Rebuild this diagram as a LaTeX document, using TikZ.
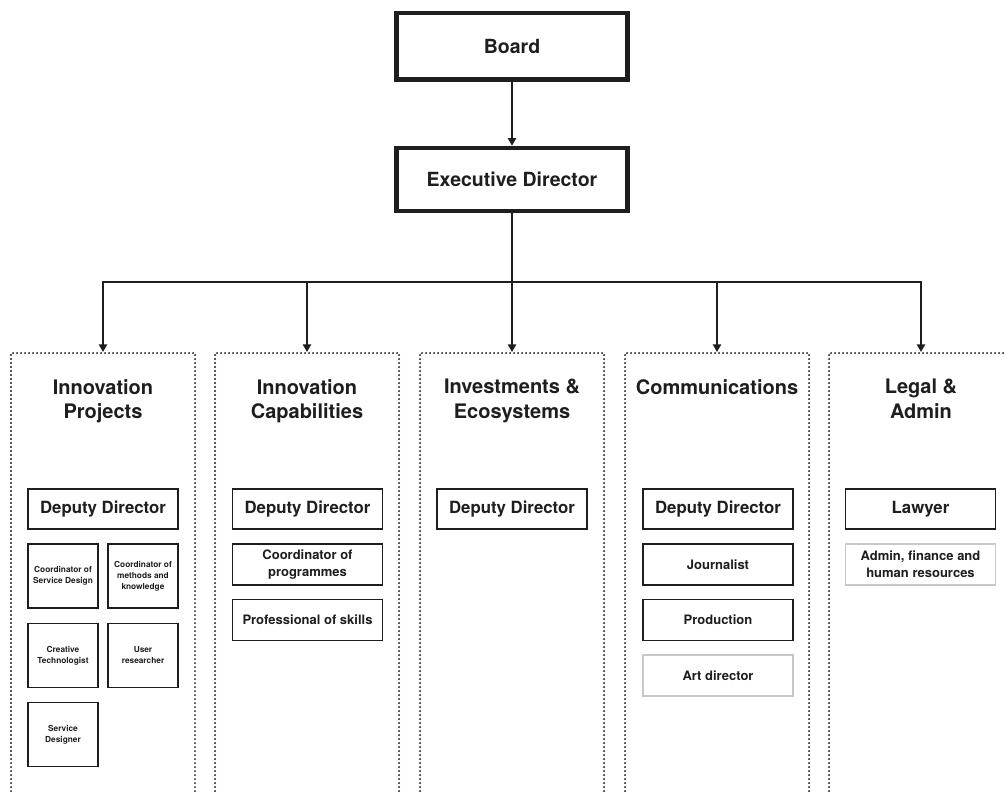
\documentclass[tikz,border=0pt]{standalone}
\usepackage{fontspec}
\setmainfont{TeX Gyre Heros}
\usetikzlibrary{arrows.meta}
\definecolor{ink}{HTML}{1E1E1E}
\definecolor{dots}{HTML}{1E1E1E}
\definecolor{soft}{HTML}{C8C8C8}

\begin{document}
\begin{tikzpicture}[x=1pt,y=-1pt,
  every node/.style={inner sep=0pt, text=ink},
  topbox/.style={draw=ink, line width=4.5pt, minimum width=231pt, align=center,
    font=\bfseries\fontsize{19.5}{23}\selectfont},
  unit/.style={draw=dots, line width=2.1pt, dash pattern=on 0pt off 4pt, line cap=round,
    minimum width=184pt, minimum height=470pt, anchor=north},
  unittitle/.style={anchor=north, align=center, font=\bfseries\fontsize{20}{24.5}\selectfont},
  lead/.style={draw=ink, line width=1.8pt, minimum width=150pt, minimum height=40pt,
    font=\bfseries\fontsize{16.8}{20}\selectfont},
  role/.style={draw=ink, line width=1.8pt, minimum width=150pt, minimum height=41pt,
    align=center, font=\bfseries\fontsize{13}{17}\selectfont},
  vacant/.style={role, draw=soft},
  cell/.style={draw=ink, line width=1.8pt, minimum width=70pt, minimum height=64pt,
    align=center, font=\bfseries\fontsize{8.3}{11}\selectfont},
  conn/.style={draw=ink, line width=1.8pt, -{Triangle[width=8pt,length=7.5pt]}}
]
\useasboundingbox (0,0) rectangle (1005,794);
\clip (0,0) rectangle (1005,794);
\fill[white] (0,0) rectangle (1005,794);

% leadership
\node[topbox, minimum height=66.5pt] (board) at (512,46.25) {Board};
\node[topbox, minimum height=63pt] (exec) at (512,179.5) {Executive Director};

% units (dotted frames)
\node[unit] (u1) at (103,352) {};
\node[unit] (u2) at (307,352) {};
\node[unit] (u3) at (512,352) {};
\node[unit] (u4) at (717,352) {};
\node[unit] (u5) at (921,352) {};

\node[unittitle] (t1) at (103,379) {Innovation\\Projects};
\node[unittitle] (t2) at (307,379) {Innovation\\Capabilities};
\node[unittitle] (t3) at (512,379) {Investments \&\\Ecosystems};
\node[unittitle] (t4) at (717,379) {Communications};
\node[unittitle] (t5) at (921,379) {Legal \&\\Admin};

% reporting lines
\coordinate (bus) at (512,282);
\draw[conn] (board.south) -- (exec.north);
\draw[conn] (exec.south) -- (exec.south |- bus) -| (u1.north);
\draw[conn] (exec.south) -- (exec.south |- bus) -| (u2.north);
\draw[conn] (exec.south) -- (u3.north);
\draw[conn] (exec.south) -- (exec.south |- bus) -| (u4.north);
\draw[conn] (exec.south) -- (exec.south |- bus) -| (u5.north);

% Innovation Projects
\node[lead] (ipdd) at (103,509) {Deputy Director};
\node[cell] (ipa) at (63,576) {Coordinator of\\Service Design};
\node[cell] (ipb) at (143,576) {Coordinator of\\methods and\\knowledge};
\node[cell] (ipc) at (63,655.5) {Creative\\Technologist};
\node[cell] (ipd) at (143,655.5) {User\\researcher};
\node[cell] (ipe) at (63,734.5) {Service\\Designer};

% Innovation Capabilities
\node[lead] (icdd) at (307.5,509) {Deputy Director};
\node[role] (ica) at (307.5,564.5) {Coordinator of\\programmes};
\node[role] (icb) at (307.5,620) {Professional of skills};

% Investments & Ecosystems
\node[lead] (iedd) at (512,509) {Deputy Director};

% Communications
\node[lead] (cmdd) at (718,509) {Deputy Director};
\node[role] (cma) at (718,564.5) {Journalist};
\node[role] (cmb) at (718,620) {Production};
\node[vacant] (cmc) at (718,675.5) {Art director};

% Legal & Admin
\node[lead] (lgdd) at (920.5,509) {Lawyer};
\node[vacant] (lga) at (920.5,564.5) {Admin, finance and\\human resources};
\end{tikzpicture}
\end{document}
